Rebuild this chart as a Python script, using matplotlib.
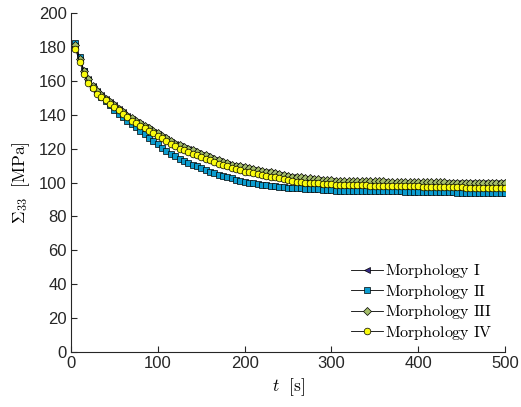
import numpy as np
import matplotlib.pyplot as plt

plt.rcParams.update({'font.family': 'Liberation Sans', 'font.size': 12,
                     'mathtext.fontset': 'cm'})

# time samples (s)
t = np.arange(5, 505, 5)

# Sigma_33 (MPa)
sig_I = [180.5, 172.5, 166, 161, 157, 154, 151.5, 149.5, 147.5, 145.5,
         143.5, 141.5, 139.5, 137.5, 136, 134.5, 133, 131.5, 130, 128.5,
         127, 125.5, 124, 122.5, 121.5, 120.5, 119.5, 118.5, 117.5, 116.5,
         115.5, 114.5, 113.5, 112.5, 111.5, 111, 110, 109.5, 109, 108.5,
         108, 107.5, 107, 106.5, 106, 105.5, 105, 104.5, 104, 103.5,
         103, 102.5, 102.5, 102, 102, 101.5, 101.5, 101, 101, 101,
         100.5, 100.5, 100.5, 100.5, 100.5, 100.5, 100.5, 100.5, 100.5, 100.5,
         100.5, 100.5, 100, 100, 100, 100, 100, 100, 100, 100,
         100, 100, 100, 100, 100, 100, 99.5, 99.5, 99.5, 99.5,
         99.5, 99.5, 99.5, 99.5, 99.5, 99.5, 99.5, 99.5, 99.5, 99.5]
sig_II = [182.5, 174, 166, 160.5, 156.5, 153.5, 150.5, 148, 145.5, 143,
          140.5, 138.5, 136.5, 134.5, 132.5, 130.5, 128.5, 126.5, 124.5, 122.5,
          120.5, 118.5, 117, 115.5, 114, 112.5, 111.5, 110.5, 109.5, 108.5,
          107.5, 106.5, 105.5, 104.5, 104, 103, 102.5, 101.5, 101, 100.5,
          100, 99.5, 99, 98.5, 98.5, 98, 98, 97.5, 97.5, 97,
          97, 96.5, 96.5, 96, 96, 96, 96, 95.5, 95.5, 95.5,
          95, 95, 95, 95, 95, 95, 95, 95, 95, 95,
          95, 95, 95, 95, 95, 95, 94.5, 94.5, 94.5, 94.5,
          94.5, 94.5, 94.5, 94.5, 94.5, 94.5, 94.5, 94.5, 94, 94,
          94, 94, 94, 94, 94, 94, 94, 94, 94, 94]
sig_III = [181, 173, 166, 161, 157, 154, 151.5, 149.5, 147.5, 145.5,
           143.5, 141.5, 139.5, 138, 136.5, 135, 133.5, 132, 130.5, 129,
           127.5, 126, 124.5, 123, 122, 121, 120, 119, 118, 117,
           116, 115, 114, 113, 112, 111.5, 110.5, 110, 109.5, 109,
           108.5, 108, 107.5, 107, 106.5, 106, 105.5, 105, 104.5, 104,
           103.5, 103, 103, 102.5, 102.5, 102, 102, 101.5, 101.5, 101.5,
           101, 101, 101, 101, 101, 101, 101, 101, 101, 101,
           101, 101, 100.5, 100.5, 100.5, 100.5, 100.5, 100.5, 100.5, 100.5,
           100.5, 100.5, 100.5, 100.5, 100.5, 100.5, 100, 100, 100, 100,
           100, 100, 100, 100, 100, 100, 100, 100, 100, 100]
sig_IV = [179, 171, 164, 159, 155.5, 152.5, 150.5, 148.5, 146.5, 144.5,
          142.5, 140.5, 138.5, 136.5, 135, 133.5, 132, 130.5, 129, 127.5,
          126, 124.5, 123, 121.5, 120, 119, 118, 117, 116, 115,
          114, 113, 112, 111, 110.5, 109.5, 108.5, 108, 107.5, 106.5,
          106, 105.5, 105, 104.5, 104, 103.5, 103, 102.5, 102, 101.5,
          101, 100.5, 100.5, 100, 100, 99.5, 99.5, 99, 99, 99,
          98.5, 98.5, 98.5, 98.5, 98.5, 98.5, 98.5, 98.5, 98, 98,
          98, 98, 98, 98, 98, 98, 98, 98, 98, 98,
          97.5, 97.5, 97.5, 97.5, 97.5, 97.5, 97.5, 97.5, 97.5, 97.5,
          97, 97, 97, 97, 97, 97, 97, 97, 97, 97]

labels = ['Morphology I', 'Morphology II', 'Morphology III', 'Morphology IV']
colors = ['#352a87', '#0b9ccf', '#a5be6b', '#f9fb0e']
markers = ['<', 's', 'D', 'o']
msizes = [4.8, 4.2, 4.4, 4.8]

fig = plt.figure(figsize=(5.21, 4.07), dpi=100)
ax = fig.add_axes([0.1363, 0.1351, 0.8330, 0.8329])

for s, lab, c, m, ms in zip([sig_I, sig_II, sig_III, sig_IV], labels, colors, markers, msizes):
    ax.plot(t, s, color='k', lw=0.6, marker=m, ms=ms, mfc=c, mec='k', mew=0.5,
            label=r'$\mathrm{' + lab.replace(' ', r'\ ') + '}$')

ax.set_xlim(0, 500)
ax.set_ylim(0, 200)
ax.set_xticks(np.arange(0, 501, 100))
ax.set_yticks(np.arange(0, 201, 20))
ax.spines['top'].set_visible(False)
ax.spines['right'].set_visible(False)
for sp in ['left', 'bottom']:
    ax.spines[sp].set_color('#262626')
    ax.spines[sp].set_linewidth(0.8)
ax.tick_params(direction='in', length=4, width=0.8, colors='#262626',
               labelcolor='#262626', pad=3)
ax.set_xlabel(r'$t\ \ [\mathrm{s}]$', fontsize=12.5, labelpad=4)
ax.set_ylabel(r'$\Sigma_{33}\ \ [\mathrm{MPa}]$', fontsize=12.5, labelpad=5)

ax.legend(loc='lower right', frameon=False, fontsize=11.5, handlelength=2.0,
          handletextpad=0.1, labelspacing=0.15, borderaxespad=0.0,
          bbox_to_anchor=(0.985, 0.012))

fig.savefig('out.png', dpi=100)
